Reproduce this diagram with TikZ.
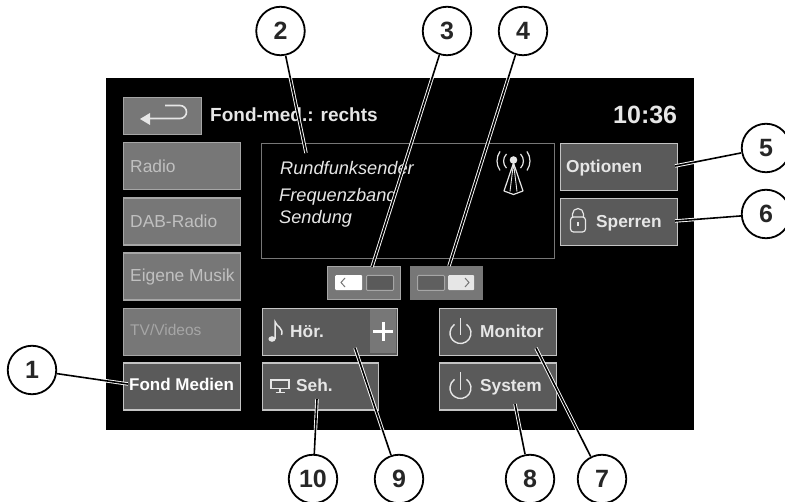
\documentclass[tikz,border=0pt]{standalone}
\usepackage{fontspec}
\setmainfont{Liberation Sans}
\definecolor{inact}{HTML}{777777}
\definecolor{inactb}{HTML}{A6A6A6}
\definecolor{act}{HTML}{5A5A5A}
\definecolor{actb}{HTML}{C4C4C4}
\definecolor{txtdim}{HTML}{C0C0C0}
\definecolor{txtlit}{HTML}{E6E6E6}
\tikzset{
  x=1pt,y=-1pt,
  inactbtn/.style={draw=inactb,fill=inact,line width=1.1pt,inner sep=0pt,anchor=north west},
  actbtn/.style={draw=actb,fill=act,line width=1.1pt,inner sep=0pt,anchor=north west},
  dimtxt/.style={text=txtdim,font=\fontsize{17.4}{19}\selectfont,anchor=base west,inner sep=0pt},
  boldtxt/.style={text=txtlit,font=\fontsize{17.3}{19}\bfseries\selectfont,anchor=base west,inner sep=0pt},
  itxt/.style={text=txtlit,font=\fontsize{18.2}{20}\itshape\selectfont,anchor=base west,inner sep=0pt},
  callout/.style={circle,draw=black,fill=white,line width=1.8pt,minimum size=48.5pt,inner sep=0pt,font=\fontsize{25}{27}\bfseries\selectfont,text=black!85},
  leader/.style={draw=white,double=black,line width=0.9pt,double distance=1.6pt},
  icon/.style={draw=txtlit,line width=1.2pt,fill=none},
}
\begin{document}
\begin{tikzpicture}
\useasboundingbox (0,0) rectangle (785,502);
\fill[white] (0,0) rectangle (785,502);
\fill[black] (106,78.5) rectangle (694,430);
% buttons
\node[inactbtn,minimum width=78pt,minimum height=37pt] (back) at (123,97) {};
\node[inactbtn,minimum width=117pt,minimum height=47pt] (radio) at (123,142) {};
\node[inactbtn,minimum width=117pt,minimum height=47pt] (dab) at (123,197.5) {};
\node[inactbtn,minimum width=117pt,minimum height=47pt] (musik) at (123,252.5) {};
\node[inactbtn,minimum width=117pt,minimum height=47pt] (tv) at (123,308) {};
\node[actbtn,minimum width=117pt,minimum height=47pt] (fond) at (123,362.5) {};
\node[draw=inact,line width=1pt,inner sep=0pt,anchor=north west,minimum width=293pt,minimum height=115pt] (info) at (261,143) {};
\node[actbtn,minimum width=117pt,minimum height=47pt] (opt) at (560,143) {};
\node[actbtn,minimum width=117pt,minimum height=47pt] (sperr) at (560,198) {};
\node[inactbtn,draw=inactb,minimum width=73pt,minimum height=33pt] (sl) at (327,266) {};
\node[inactbtn,draw=inact,minimum width=72pt,minimum height=33pt] (sr) at (410,266) {};
\node[actbtn,minimum width=135pt,minimum height=47pt] (hoer) at (262,308) {};
\fill[inact] (370,308.6) rectangle (396.4,353.4);
\node[actbtn,minimum width=116pt,minimum height=47pt] (seh) at (262,362.5) {};
\node[actbtn,minimum width=117pt,minimum height=47pt] (mon) at (439,308) {};
\node[actbtn,minimum width=117pt,minimum height=47pt] (sys) at (439,362.5) {};
% slider parts
\node[fill=white,inner sep=0pt,anchor=north west,minimum width=27pt,minimum height=15pt,rounded corners=1pt] (slA) at (335,275) {};
\node[draw=inactb,fill=act,line width=1pt,inner sep=0pt,anchor=north west,minimum width=27pt,minimum height=15pt,rounded corners=1pt] (slB) at (366,275) {};
\draw[inact,line width=1pt] (345,278) -- (341,282.5) -- (345,287);
\node[draw=inactb,fill=inact!80!black,line width=1pt,inner sep=0pt,anchor=north west,minimum width=27pt,minimum height=15pt,rounded corners=1pt] (srA) at (417,275) {};
\node[fill=txtlit,inner sep=0pt,anchor=north west,minimum width=26pt,minimum height=15pt,rounded corners=1pt] (srB) at (448,275) {};
\draw[inact,line width=1pt] (465,278) -- (469,282.5) -- (465,287);
% texts
\node[boldtxt,font=\fontsize{19}{21}\bfseries\selectfont] (title) at (210,122) {Fond-med.: rechts};
\node[boldtxt,font=\fontsize{25}{27}\bfseries\selectfont] (time) at (613,124) {10:36};
\node[dimtxt] (tRadio) at (130,173) {Radio};
\node[dimtxt] (tDab) at (130,228) {DAB-Radio};
\node[dimtxt] (tMusik) at (130,282) {Eigene Musik};
\node[dimtxt,text=inactb,font=\fontsize{15.5}{17}\selectfont] (tTv) at (130,336) {TV/Videos};
\node[boldtxt,text=white,font=\fontsize{17}{19}\bfseries\selectfont] (tFond) at (129,391) {Fond Medien};
\node[itxt] (tRund) at (280,175) {Rundfunksender};
\node[itxt] (tFreq) at (279,202) {Frequenzband};
\node[itxt] (tSend) at (279,224) {Sendung};
\node[boldtxt] (tOpt) at (566,173) {Optionen};
\node[boldtxt] (tSperr) at (596,228) {Sperren};
\node[boldtxt] (tHoer) at (290,338) {Hör.};
\node[boldtxt] (tSeh) at (296,392) {Seh.};
\node[boldtxt] (tMon) at (480,338) {Monitor};
\node[boldtxt] (tSys) at (480,392) {System};
% back arrow
\draw[icon,line width=1.6pt] (146,118.5) -- (180,118.5) arc[start angle=90,end angle=-90,radius=6.5] -- (165,105.5);
\fill[txtlit] (140,119) -- (150,113) -- (150,125) -- cycle;
% antenna
\fill[txtlit] (513.5,160) circle[radius=3.8];
\draw[icon,line join=round] (513.5,163) -- (504,191) -- (513.5,194.5) -- (523,191) -- cycle;
\draw[icon,line width=0.9pt] (513.5,163) -- (510,191.5) (513.5,163) -- (517,191.5);
\draw[icon] (506.5,154) arc[start angle=225,end angle=135,radius=10];
\draw[icon] (520.5,154) arc[start angle=-45,end angle=45,radius=10];
\draw[icon] (500,151.5) arc[start angle=215,end angle=145,radius=16.5];
\draw[icon] (527,151.5) arc[start angle=-35,end angle=35,radius=16.5];
% lock
\draw[icon,rounded corners=3pt] (570.5,217) rectangle (585.5,232);
\draw[icon] (572.5,217) -- (572.5,214) arc[start angle=180,end angle=360,radius=5.5] -- (583.5,217);
\draw[icon,line width=1.6pt] (578,222.5) -- (578,226.5);
% note
\fill[txtlit] (272,339) ellipse[x radius=3.6,y radius=2.8];
\draw[icon,line width=1.5pt] (275.2,339) -- (275.2,322) .. controls (276,326) and (284,328) .. (281.5,335);
% plus
\draw[white,line width=3pt] (383,322) -- (383,341) (373,331.5) -- (392.5,331.5);
% monitor icon
\draw[icon] (271,380) rectangle (289,388.5);
\draw[icon] (280,388.5) -- (280,392) (275.5,392.5) -- (284.5,392.5);
% power icons
\draw[icon,line width=1.4pt] (460.5,318) -- (460.5,335);
\draw[icon,line width=1.4pt] (466.5,324.4) arc[start angle=305,end angle=595,radius=10.5];
\draw[icon,line width=1.4pt] (460.5,372) -- (460.5,390);
\draw[icon,line width=1.4pt] (466.5,379.4) arc[start angle=305,end angle=595,radius=10.5];
% leaders
\coordinate (e1) at (128,384);
\coordinate (e2) at (306,153);
\coordinate (e3) at (372,267);
\coordinate (e4) at (449,266);
\coordinate (e5) at (675,166);
\coordinate (e6) at (675,221);
\coordinate (e7) at (536,348);
\coordinate (e8) at (515,404);
\coordinate (e9) at (355,348);
\coordinate (e10) at (317,399);
\node[callout] (c1) at (32,370) {1};
\node[callout] (c2) at (280.5,31) {2};
\node[callout] (c3) at (447,31) {3};
\node[callout] (c4) at (523,31) {4};
\node[callout] (c5) at (766,148) {5};
\node[callout] (c6) at (766,214) {6};
\node[callout] (c7) at (602,479) {7};
\node[callout] (c8) at (530,479) {8};
\node[callout] (c9) at (399,479) {9};
\node[callout] (c10) at (313,479) {10};
\foreach \i in {1,...,10} { \draw[leader] (c\i) -- (e\i); }
\end{tikzpicture}
\end{document}
